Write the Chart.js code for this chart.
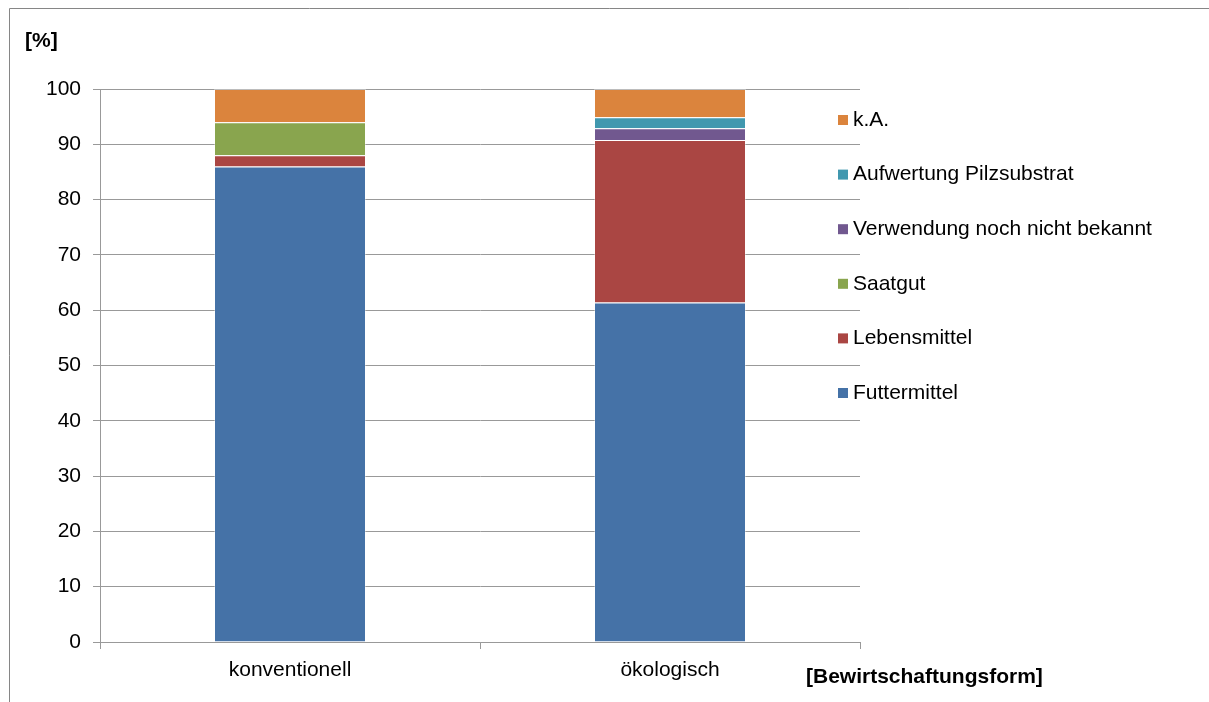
<!DOCTYPE html>
<html>
<head>
<meta charset="utf-8">
<script src="https://cdn.jsdelivr.net/npm/chart.js@4.4.0/dist/chart.umd.min.js"></script>
<style>
  html, body { margin: 0; padding: 0; background: #fff; }
  canvas { display: block; }
</style>
</head>
<body>
<canvas id="grafico" width="1209" height="702"></canvas>
<script>
// Daten
const kategorien = ['konventionell', 'ökologisch'];
const futtermittel = [86, 61.4];
const lebensmittel = [2, 29.4];
const saatgut = [6, 0];
const verwendungUnbekannt = [0, 2.1];
const aufwertungPilz = [0, 2];
const keineAngabe = [6, 5.1];

const farben = {
    futter: '#4572a7',
    leben: '#aa4643',
    saat: '#89a54e',
    verw: '#71588f',
    pilz: '#4198af',
    ka: '#db843d'
};

const schrift = 'Arial, "Liberation Sans", sans-serif';
const gitterFarbe = '#999999';

// Rahmen, Achsentitel und Legende von Hand zeichnen
const extras = {
    id: 'extras',
    beforeDraw(chart) {
        const c = chart.ctx;
        c.save();
        c.fillStyle = '#fff';
        c.fillRect(0, 0, chart.width, chart.height);
        c.strokeStyle = '#868686';
        c.lineWidth = 1;
        c.beginPath();
        c.moveTo(9.5, chart.height);
        c.lineTo(9.5, 8.5);
        c.lineTo(chart.width, 8.5);
        c.stroke();
        c.restore();
    },
    afterDraw(chart) {
        const c = chart.ctx;
        c.save();
        c.fillStyle = '#000';
        c.font = 'bold 21px ' + schrift;
        c.textBaseline = 'middle';
        c.textAlign = 'left';
        c.fillText('[%]', 25, 41);
        c.fillText('[Bewirtschaftungsform]', 806, 677);

        // Legende (umgekehrte Reihenfolge)
        c.font = '21px ' + schrift;
        const ds = chart.data.datasets.slice().reverse();
        ds.forEach(function (d, i) {
            const y = 120 + i * 54.6;
            c.fillStyle = d.backgroundColor;
            c.fillRect(838, y - 5, 10, 10);
            c.fillStyle = '#000';
            c.fillText(d.label, 853, y);
        });
        c.restore();
    }
};

function serie(label, daten, farbe) {
    return {
        label: label,
        data: daten,
        backgroundColor: farbe,
        borderColor: 'rgba(255,255,255,0.35)',
        borderWidth: 1,
        categoryPercentage: 1,
        barPercentage: 0.4
    };
}

const ctx = document.getElementById('grafico').getContext('2d');
const meinChart = new Chart(ctx, {
    type: 'bar',
    data: {
        labels: kategorien,
        datasets: [
            serie('Futtermittel', futtermittel, farben.futter),
            serie('Lebensmittel', lebensmittel, farben.leben),
            serie('Saatgut', saatgut, farben.saat),
            serie('Verwendung noch nicht bekannt', verwendungUnbekannt, farben.verw),
            serie('Aufwertung Pilzsubstrat', aufwertungPilz, farben.pilz),
            serie('k.A.', keineAngabe, farben.ka)
        ]
    },
    options: {
        responsive: false,
        animation: false,
        layout: { padding: { top: 89, right: 349, bottom: 0, left: 0 } },
        plugins: {
            legend: { display: false },
            tooltip: { enabled: false }
        },
        scales: {
            x: {
                stacked: true,
                afterFit: function (s) { s.height = 60; },
                grid: {
                    display: true,
                    drawOnChartArea: false,
                    offset: true,
                    tickLength: 7,
                    color: gitterFarbe
                },
                border: { color: gitterFarbe, width: 1 },
                ticks: {
                    color: '#000',
                    padding: 9,
                    font: { family: schrift, size: 21 }
                }
            },
            y: {
                stacked: true,
                min: 0,
                max: 100,
                afterFit: function (s) { s.width = 100; },
                grid: {
                    color: gitterFarbe,
                    tickLength: 7
                },
                border: { color: gitterFarbe, width: 1 },
                ticks: {
                    stepSize: 10,
                    color: '#000',
                    padding: 12,
                    font: { family: schrift, size: 21 }
                }
            }
        }
    },
    plugins: [extras]
});
</script>
</body>
</html>
